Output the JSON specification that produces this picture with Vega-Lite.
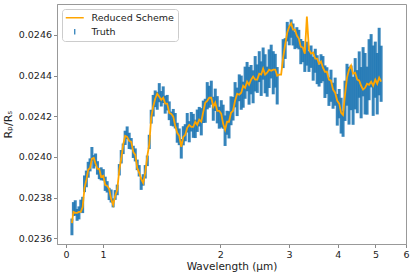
{
  "$schema": "https://vega.github.io/schema/vega-lite/v6.json",
  "width": 349,
  "height": 240,
  "autosize": {"type": "none"},
  "padding": {"left": 57, "top": 4, "right": 9, "bottom": 33},
  "config": {
    "font": "DejaVu Sans",
    "view": {"stroke": "#999999", "strokeWidth": 1},
    "axis": {"grid": false, "domainColor": "#999999", "tickColor": "#888888", "labelColor": "#222222", "labelFont": "DejaVu Sans", "labelFontSize": 9.5, "titleFont": "DejaVu Sans", "titleFontSize": 10.5, "titleFontWeight": "normal", "titleColor": "#222222", "tickSize": 3.5, "labelPadding": 2, "domainWidth": 1}
  },
  "layer": [
    {
      "data": {"values": [
        {"w":0.16,"v":0.023656,"e":0.000041},{"w":0.20,"v":0.023744,"e":0.000034},{"w":0.25,"v":0.023749,"e":0.000038},{"w":0.30,"v":0.023715,"e":0.000029},{"w":0.35,"v":0.023725,"e":0.000032},{"w":0.40,"v":0.023759,"e":0.000031},{"w":0.45,"v":0.023764,"e":0.000040},{"w":0.50,"v":0.023868,"e":0.000041},{"w":0.55,"v":0.023892,"e":0.000041},{"w":0.60,"v":0.023937,"e":0.000039},{"w":0.65,"v":0.023961,"e":0.000032},{"w":0.70,"v":0.024015,"e":0.000034},{"w":0.75,"v":0.023976,"e":0.000033},{"w":0.80,"v":0.023986,"e":0.000031},{"w":0.85,"v":0.023946,"e":0.000033},{"w":0.90,"v":0.023917,"e":0.000026},{"w":0.95,"v":0.023917,"e":0.000032},
        {"w":1.0018,"v":0.023912,"e":0.000028},{"w":1.0137,"v":0.023868,"e":0.000035},{"w":1.0258,"v":0.023853,"e":0.000028},{"w":1.0380,"v":0.023818,"e":0.000030},{"w":1.0503,"v":0.023808,"e":0.000032},{"w":1.0628,"v":0.023774,"e":0.000022},{"w":1.0754,"v":0.023813,"e":0.000024},{"w":1.0882,"v":0.023838,"e":0.000026},{"w":1.1011,"v":0.023937,"e":0.000028},{"w":1.1142,"v":0.024001,"e":0.000033},
        {"w":1.1274,"v":0.024040,"e":0.000026},{"w":1.1408,"v":0.024094,"e":0.000035},{"w":1.1544,"v":0.024119,"e":0.000031},{"w":1.1681,"v":0.024079,"e":0.000040},{"w":1.1820,"v":0.024065,"e":0.000028},{"w":1.1961,"v":0.024025,"e":0.000030},{"w":1.2103,"v":0.024010,"e":0.000032},{"w":1.2247,"v":0.023961,"e":0.000026},{"w":1.2392,"v":0.023932,"e":0.000028},{"w":1.2539,"v":0.023868,"e":0.000030},
        {"w":1.2688,"v":0.023887,"e":0.000028},{"w":1.2839,"v":0.023927,"e":0.000033},{"w":1.2992,"v":0.023981,"e":0.000026},{"w":1.3146,"v":0.024074,"e":0.000035},{"w":1.3302,"v":0.024198,"e":0.000034},{"w":1.3460,"v":0.024252,"e":0.000053},{"w":1.3620,"v":0.024286,"e":0.000041},{"w":1.3782,"v":0.024276,"e":0.000044},{"w":1.3946,"v":0.024316,"e":0.000047},{"w":1.4112,"v":0.024286,"e":0.000038},
        {"w":1.4279,"v":0.024306,"e":0.000041},{"w":1.4449,"v":0.024257,"e":0.000044},{"w":1.4621,"v":0.024267,"e":0.000038},{"w":1.4794,"v":0.024227,"e":0.000046},{"w":1.4970,"v":0.024188,"e":0.000035},{"w":1.5148,"v":0.024193,"e":0.000043},{"w":1.5328,"v":0.024178,"e":0.000038},{"w":1.5511,"v":0.024119,"e":0.000049},{"w":1.5695,"v":0.024099,"e":0.000041},{"w":1.5881,"v":0.024040,"e":0.000048},
        {"w":1.6070,"v":0.024104,"e":0.000047},{"w":1.6261,"v":0.024119,"e":0.000042},{"w":1.6454,"v":0.024168,"e":0.000048},{"w":1.6650,"v":0.024124,"e":0.000052},{"w":1.6848,"v":0.024173,"e":0.000048},{"w":1.7048,"v":0.024153,"e":0.000059},{"w":1.7250,"v":0.024138,"e":0.000045},{"w":1.7456,"v":0.024178,"e":0.000055},{"w":1.7663,"v":0.024198,"e":0.000048},{"w":1.7873,"v":0.024173,"e":0.000067},
        {"w":1.8085,"v":0.024222,"e":0.000055},{"w":1.8300,"v":0.024227,"e":0.000059},{"w":1.8517,"v":0.024301,"e":0.000067},{"w":1.8738,"v":0.024296,"e":0.000054},{"w":1.8960,"v":0.024316,"e":0.000059},{"w":1.9186,"v":0.024237,"e":0.000059},{"w":1.9414,"v":0.024281,"e":0.000055},{"w":1.9644,"v":0.024232,"e":0.000067},{"w":1.9878,"v":0.024193,"e":0.000054},{"w":2.0114,"v":0.024212,"e":0.000067},
        {"w":2.0353,"v":0.024198,"e":0.000059},{"w":2.0595,"v":0.024129,"e":0.000075},{"w":2.0840,"v":0.024168,"e":0.000059},{"w":2.1087,"v":0.024158,"e":0.000067},{"w":2.1338,"v":0.024227,"e":0.000071},{"w":2.1591,"v":0.024237,"e":0.000058},{"w":2.1848,"v":0.024306,"e":0.000062},{"w":2.2108,"v":0.024271,"e":0.000070},{"w":2.2371,"v":0.024340,"e":0.000066},{"w":2.2636,"v":0.024316,"e":0.000084},
        {"w":2.2905,"v":0.024306,"e":0.000064},{"w":2.3177,"v":0.024365,"e":0.000079},{"w":2.3453,"v":0.024395,"e":0.000072},{"w":2.3731,"v":0.024350,"e":0.000093},{"w":2.4014,"v":0.024380,"e":0.000072},{"w":2.4299,"v":0.024345,"e":0.000081},{"w":2.4588,"v":0.024409,"e":0.000087},{"w":2.4880,"v":0.024385,"e":0.000070},{"w":2.5176,"v":0.024444,"e":0.000076},{"w":2.5475,"v":0.024385,"e":0.000085},
        {"w":2.5777,"v":0.024459,"e":0.000079},{"w":2.6084,"v":0.024409,"e":0.000096},{"w":2.6394,"v":0.024370,"e":0.000074},{"w":2.6707,"v":0.024434,"e":0.000095},{"w":2.7025,"v":0.024469,"e":0.000083},{"w":2.7346,"v":0.024414,"e":0.000106},{"w":2.7671,"v":0.024424,"e":0.000083},{"w":2.8000,"v":0.024350,"e":0.000092},
        {"w":2.9010,"v":0.024508,"e":0.000071},{"w":2.9354,"v":0.024533,"e":0.000051},{"w":2.9703,"v":0.024616,"e":0.000048},{"w":3.0056,"v":0.024597,"e":0.000048},{"w":3.0414,"v":0.024631,"e":0.000045},{"w":3.0775,"v":0.024602,"e":0.000054},{"w":3.1141,"v":0.024572,"e":0.000042},{"w":3.1511,"v":0.024587,"e":0.000051},{"w":3.1886,"v":0.024577,"e":0.000048},{"w":3.2264,"v":0.024518,"e":0.000062},
        {"w":3.2647,"v":0.024518,"e":0.000052},{"w":3.3035,"v":0.024473,"e":0.000055},{"w":3.3428,"v":0.024508,"e":0.000059},{"w":3.3826,"v":0.024469,"e":0.000051},{"w":3.4227,"v":0.024493,"e":0.000055},{"w":3.4634,"v":0.024434,"e":0.000059},{"w":3.5046,"v":0.024473,"e":0.000059},{"w":3.5463,"v":0.024429,"e":0.000071},{"w":3.5884,"v":0.024400,"e":0.000054},{"w":3.6311,"v":0.024434,"e":0.000071},
        {"w":3.6741,"v":0.024434,"e":0.000062},{"w":3.7178,"v":0.024370,"e":0.000080},{"w":3.7620,"v":0.024375,"e":0.000066},{"w":3.8067,"v":0.024321,"e":0.000070},{"w":3.8520,"v":0.024350,"e":0.000079},{"w":3.8977,"v":0.024301,"e":0.000064},{"w":3.9441,"v":0.024321,"e":0.000069},{"w":3.9909,"v":0.024232,"e":0.000078},{"w":4.0384,"v":0.024262,"e":0.000072},{"w":4.0864,"v":0.024203,"e":0.000088},
        {"w":4.1349,"v":0.024163,"e":0.000064},{"w":4.1840,"v":0.024276,"e":0.000099},{"w":4.2337,"v":0.024355,"e":0.000103},{"w":4.2841,"v":0.024301,"e":0.000142},{"w":4.3350,"v":0.024340,"e":0.000110},{"w":4.3865,"v":0.024276,"e":0.000118},{"w":4.4387,"v":0.024360,"e":0.000126},{"w":4.4914,"v":0.024321,"e":0.000106},{"w":4.5448,"v":0.024405,"e":0.000114},{"w":4.5988,"v":0.024316,"e":0.000126},
        {"w":4.6534,"v":0.024419,"e":0.000121},{"w":4.7087,"v":0.024360,"e":0.000151},{"w":4.7646,"v":0.024326,"e":0.000118},{"w":4.8213,"v":0.024429,"e":0.000150},{"w":4.8786,"v":0.024473,"e":0.000131},{"w":4.9366,"v":0.024375,"e":0.000173},{"w":4.9952,"v":0.024429,"e":0.000138},{"w":5.0546,"v":0.024360,"e":0.000151},{"w":5.1147,"v":0.024469,"e":0.000166},{"w":5.1755,"v":0.024409,"e":0.000138}
      ]},
      "mark": {"type": "errorbar", "thickness": 3, "rule": {"opacity": 0.9}},
      "encoding": {
        "x": {"field": "w", "type": "quantitative",
          "scale": {"domain": [-0.243, 0, 1, 1.1, 1.2, 1.3, 1.4, 1.5, 1.6, 1.7, 1.8, 1.9, 2, 2.25, 2.5, 2.75, 3, 3.5, 4, 4.5, 5, 5.5, 6],
                    "range": [0, 9, 46, 62.14, 76.87, 90.42, 102.96, 114.64, 125.57, 135.83, 145.51, 154.66, 163.34, 183.28, 201.12, 217.25, 231.98, 258.08, 280.68, 300.62, 318.46, 334.59, 349], "nice": false, "zero": false},
          "axis": {"title": "Wavelength (μm)", "values": [0, 1, 2, 3, 4, 5, 6], "format": "d", "titlePadding": 2, "labelFlush": false}},
        "y": {"field": "v", "type": "quantitative",
          "scale": {"domain": [0.023572, 0.024752], "nice": false, "zero": false},
          "axis": {"title": "Rₚ/Rₛ", "values": [0.0236, 0.0238, 0.024, 0.0242, 0.0244, 0.0246], "format": ".4f", "titlePadding": 5, "titleFontSize": 11}},
        "yError": {"field": "e"},
        "color": {"datum": "Truth", "type": "nominal",
          "scale": {"domain": ["Reduced Scheme", "Truth"], "range": ["#ffa500", "#1f77b4"]}}
      }
    },
    {
      "data": {"values": [
        {"w":0.16,"v":0.023675},{"w":0.20,"v":0.023730},{"w":0.25,"v":0.023725},{"w":0.30,"v":0.023725},{"w":0.35,"v":0.023730},{"w":0.40,"v":0.023730},{"w":0.45,"v":0.023754},{"w":0.50,"v":0.023848},{"w":0.55,"v":0.023887},{"w":0.60,"v":0.023937},{"w":0.65,"v":0.023946},{"w":0.70,"v":0.023991},{"w":0.75,"v":0.023996},{"w":0.80,"v":0.023966},{"w":0.85,"v":0.023941},{"w":0.90,"v":0.023941},{"w":0.95,"v":0.023902},
        {"w":1.0018,"v":0.023907},{"w":1.0137,"v":0.023863},{"w":1.0258,"v":0.023858},{"w":1.0380,"v":0.023843},{"w":1.0503,"v":0.023794},{"w":1.0628,"v":0.023764},{"w":1.0754,"v":0.023808},{"w":1.0882,"v":0.023838},{"w":1.1011,"v":0.023937},{"w":1.1142,"v":0.023991},
        {"w":1.1274,"v":0.024060},{"w":1.1408,"v":0.024104},{"w":1.1544,"v":0.024099},{"w":1.1681,"v":0.024079},{"w":1.1820,"v":0.024074},{"w":1.1961,"v":0.024025},{"w":1.2103,"v":0.024010},{"w":1.2247,"v":0.023946},{"w":1.2392,"v":0.023922},{"w":1.2539,"v":0.023892},
        {"w":1.2688,"v":0.023872},{"w":1.2839,"v":0.023922},{"w":1.2992,"v":0.024005},{"w":1.3146,"v":0.024060},{"w":1.3302,"v":0.024193},{"w":1.3460,"v":0.024247},{"w":1.3620,"v":0.024286},{"w":1.3782,"v":0.024311},{"w":1.3946,"v":0.024296},{"w":1.4112,"v":0.024281},
        {"w":1.4279,"v":0.024291},{"w":1.4449,"v":0.024262},{"w":1.4621,"v":0.024262},{"w":1.4794,"v":0.024217},{"w":1.4970,"v":0.024212},{"w":1.5148,"v":0.024198},{"w":1.5328,"v":0.024153},{"w":1.5511,"v":0.024119},{"w":1.5695,"v":0.024104},{"w":1.5881,"v":0.024050},
        {"w":1.6070,"v":0.024099},{"w":1.6261,"v":0.024109},{"w":1.6454,"v":0.024143},{"w":1.6650,"v":0.024158},{"w":1.6848,"v":0.024148},{"w":1.7048,"v":0.024148},{"w":1.7250,"v":0.024173},{"w":1.7456,"v":0.024158},{"w":1.7663,"v":0.024183},{"w":1.7873,"v":0.024173},
        {"w":1.8085,"v":0.024222},{"w":1.8300,"v":0.024267},{"w":1.8517,"v":0.024276},{"w":1.8738,"v":0.024291},{"w":1.8960,"v":0.024291},{"w":1.9186,"v":0.024247},{"w":1.9414,"v":0.024267},{"w":1.9644,"v":0.024227},{"w":1.9878,"v":0.024227},{"w":2.0114,"v":0.024212},
        {"w":2.0353,"v":0.024163},{"w":2.0595,"v":0.024134},{"w":2.0840,"v":0.024173},{"w":2.1087,"v":0.024173},{"w":2.1338,"v":0.024217},{"w":2.1591,"v":0.024227},{"w":2.1848,"v":0.024276},{"w":2.2108,"v":0.024311},{"w":2.2371,"v":0.024306},{"w":2.2636,"v":0.024316},
        {"w":2.2905,"v":0.024350},{"w":2.3177,"v":0.024340},{"w":2.3453,"v":0.024370},{"w":2.3731,"v":0.024355},{"w":2.4014,"v":0.024380},{"w":2.4299,"v":0.024395},{"w":2.4588,"v":0.024380},{"w":2.4880,"v":0.024380},{"w":2.5176,"v":0.024409},{"w":2.5475,"v":0.024405},
        {"w":2.5777,"v":0.024434},{"w":2.6084,"v":0.024405},{"w":2.6394,"v":0.024414},{"w":2.6707,"v":0.024429},{"w":2.7025,"v":0.024424},{"w":2.7346,"v":0.024429},{"w":2.7671,"v":0.024429},{"w":2.8000,"v":0.024400},{"w":2.8333,"v":0.024405},{"w":2.8669,"v":0.024405},
        {"w":2.9010,"v":0.024488},{"w":2.9354,"v":0.024552},{"w":2.9703,"v":0.024611},{"w":3.0056,"v":0.024641},{"w":3.0414,"v":0.024656},{"w":3.0775,"v":0.024626},{"w":3.1141,"v":0.024626},{"w":3.1511,"v":0.024597},{"w":3.1886,"v":0.024582},{"w":3.2264,"v":0.024542},
        {"w":3.2647,"v":0.024538},{"w":3.3035,"v":0.024508},{"w":3.3428,"v":0.024690},{"w":3.3826,"v":0.024528},{"w":3.4227,"v":0.024508},{"w":3.4634,"v":0.024513},{"w":3.5046,"v":0.024483},{"w":3.5463,"v":0.024483},{"w":3.5884,"v":0.024459},{"w":3.6311,"v":0.024469},
        {"w":3.6741,"v":0.024439},{"w":3.7178,"v":0.024419},{"w":3.7620,"v":0.024419},{"w":3.8067,"v":0.024380},{"w":3.8520,"v":0.024375},{"w":3.8977,"v":0.024331},{"w":3.9441,"v":0.024316},{"w":3.9909,"v":0.024276},{"w":4.0384,"v":0.024262},{"w":4.0864,"v":0.024217},
        {"w":4.1349,"v":0.024207},{"w":4.1840,"v":0.024306},{"w":4.2337,"v":0.024390},{"w":4.2841,"v":0.024429},{"w":4.3350,"v":0.024449},{"w":4.3865,"v":0.024409},{"w":4.4387,"v":0.024414},{"w":4.4914,"v":0.024380},{"w":4.5448,"v":0.024375},{"w":4.5988,"v":0.024350},
        {"w":4.6534,"v":0.024331},{"w":4.7087,"v":0.024340},{"w":4.7646,"v":0.024360},{"w":4.8213,"v":0.024355},{"w":4.8786,"v":0.024370},{"w":4.9366,"v":0.024350},{"w":4.9952,"v":0.024380},{"w":5.0546,"v":0.024360},{"w":5.1147,"v":0.024390},{"w":5.1755,"v":0.024370}
      ]},
      "mark": {"type": "line", "strokeWidth": 1.8},
      "encoding": {
        "x": {"field": "w", "type": "quantitative"},
        "y": {"field": "v", "type": "quantitative"},
        "color": {"datum": "Reduced Scheme", "type": "nominal",
          "legend": {"title": null, "orient": "top-left", "offset": 5, "padding": 4, "strokeColor": "#cccccc", "fillColor": "rgba(255,255,255,0.8)", "cornerRadius": 3, "labelFont": "DejaVu Sans", "labelFontSize": 9.5, "labelColor": "#222222", "symbolSize": 100, "symbolStrokeWidth": 1.5, "labelOffset": 12, "rowPadding": 3, "symbolOffset": 4,
            "encode": {"symbols": {"update": {"shape": {"signal": "(datum.label == 'Truth' || datum.value == 'Truth') ? 'M0,-0.55L0,0.55' : 'M-1.8,0L1.8,0'"}, "strokeWidth": {"signal": "(datum.label == 'Truth' || datum.value == 'Truth') ? 1.2 : 1.5"}}}}}}
      }
    }
  ]
}
